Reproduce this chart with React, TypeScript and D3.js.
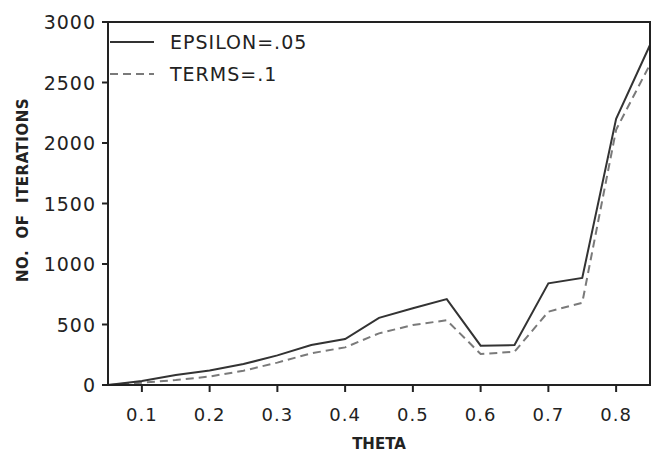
import React from "react";
import * as d3 from "d3";

const theta = [0.05, 0.1, 0.15, 0.2, 0.25, 0.3, 0.35, 0.4, 0.45, 0.5, 0.55, 0.6, 0.65, 0.7, 0.75, 0.8, 0.85];
const epsilon = [0, 33, 82, 120, 173, 245, 330, 380, 555, 635, 710, 325, 330, 840, 885, 2200, 2810];
const terms = [0, 19, 41, 70, 118, 185, 262, 311, 427, 496, 535, 256, 275, 606, 680, 2110, 2650];
const xTicks = [0.1, 0.2, 0.3, 0.4, 0.5, 0.6, 0.7, 0.8];
const yTicks = [0, 500, 1000, 1500, 2000, 2500, 3000];
const seriesNames = ["EPSILON=.05", "TERMS=.1"];

const W = 654, H = 454;
const left = 108, right = 650, top = 22, bottom = 385;

export default function App() {
  const x = d3.scaleLinear().domain([0.05, 0.85]).range([left, right]);
  const y = d3.scaleLinear().domain([0, 3000]).range([bottom, top]);
  const line = d3.line<number>().x((_, i) => x(theta[i])).y((d) => y(d));
  const tickFont = "'DejaVu Sans', sans-serif";
  return (
    <svg width={W} height={H} style={{ position: "absolute", left: 0, top: 0, background: "#fff" }}>
      <rect x={0} y={0} width={W} height={H} fill="#fff" />
      <path d={line(terms) || ""} fill="none" stroke="#7a7a7a" strokeWidth={2} strokeDasharray="8,5" />
      <path d={line(epsilon) || ""} fill="none" stroke="#333" strokeWidth={2} />
      <rect x={left} y={top} width={right - left} height={bottom - top} fill="none" stroke="#222" strokeWidth={2} />
      {xTicks.map((t) => (
        <g key={t}>
          <line x1={x(t)} x2={x(t)} y1={bottom} y2={bottom + 7} stroke="#222" strokeWidth={2} />
          <text x={x(t)} y={421} textAnchor="middle" fontFamily={tickFont} fontSize={18} letterSpacing={1} fill="#222">
            {d3.format(".1f")(t)}
          </text>
        </g>
      ))}
      {yTicks.map((t) => (
        <g key={t}>
          <line x1={left - 6} x2={left} y1={y(t)} y2={y(t)} stroke="#222" strokeWidth={2} />
          <text x={96} y={y(t) + 7} textAnchor="end" fontFamily={tickFont} fontSize={19} letterSpacing={1} fill="#222">
            {t}
          </text>
        </g>
      ))}
      <line x1={110} x2={154} y1={42} y2={42} stroke="#333" strokeWidth={2} />
      <text x={170} y={49} fontFamily={tickFont} fontSize={19} letterSpacing={1} fill="#222">{seriesNames[0]}</text>
      <line x1={110} x2={154} y1={74} y2={74} stroke="#7a7a7a" strokeWidth={2} strokeDasharray="8,5" />
      <text x={170} y={81} fontFamily={tickFont} fontSize={19} letterSpacing={1} fill="#222">{seriesNames[1]}</text>
      <text x={(left + right) / 2} y={449} textAnchor="middle" fontFamily={tickFont} fontWeight="bold" fontSize={15} fill="#222">THETA</text>
      <text transform={`translate(28,${190}) rotate(-90)`} textAnchor="middle" fontFamily={tickFont} fontWeight="bold" fontSize={15} letterSpacing={0.5} fill="#222" style={{ whiteSpace: "pre" }}>
        NO.  OF  ITERATIONS
      </text>
    </svg>
  );
}
